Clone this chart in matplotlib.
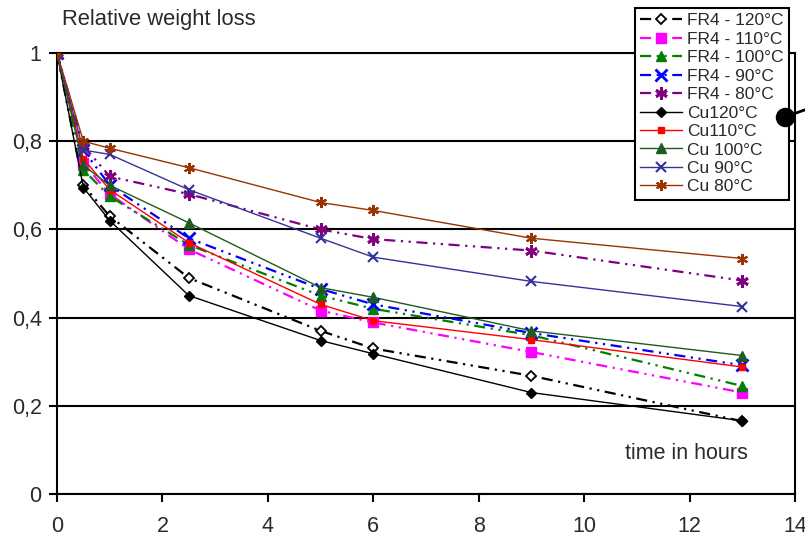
import matplotlib
matplotlib.use("Agg")
import matplotlib.pyplot as plt
from matplotlib.lines import Line2D
from matplotlib.ticker import FuncFormatter

plt.rcParams['font.family'] = ['Liberation Sans', 'DejaVu Sans']

time_h = [0, 0.5, 1, 2.5, 5, 6, 9, 13]

series_labels = ["FR4 - 120°C", "FR4 - 110°C", "FR4 - 100°C", "FR4 - 90°C", "FR4 - 80°C",
                 "Cu120°C", "Cu110°C", "Cu 100°C", "Cu 90°C", "Cu 80°C"]

fr4_120 = [1.0, 0.70, 0.63, 0.49, 0.37, 0.33, 0.268, 0.165]
fr4_110 = [1.0, 0.75, 0.68, 0.555, 0.416, 0.389, 0.322, 0.230]
fr4_100 = [1.0, 0.735, 0.675, 0.565, 0.45, 0.42, 0.36, 0.245]
fr4_90 = [1.0, 0.78, 0.70, 0.58, 0.465, 0.43, 0.365, 0.292]
fr4_80 = [1.0, 0.79, 0.72, 0.68, 0.60, 0.578, 0.552, 0.484]
cu_120 = [1.0, 0.695, 0.62, 0.45, 0.348, 0.318, 0.23, 0.166]
cu_110 = [1.0, 0.76, 0.69, 0.57, 0.43, 0.393, 0.35, 0.288]
cu_100 = [1.0, 0.745, 0.70, 0.615, 0.468, 0.446, 0.37, 0.314]
cu_90 = [1.0, 0.78, 0.77, 0.69, 0.58, 0.537, 0.482, 0.425]
cu_80 = [1.0, 0.80, 0.784, 0.74, 0.661, 0.643, 0.58, 0.534]

series_values = [fr4_120, fr4_110, fr4_100, fr4_90, fr4_80,
                 cu_120, cu_110, cu_100, cu_90, cu_80]

colors = ["#000000", "#FF00FF", "#008000", "#0000FF", "#800080",
          "#000000", "#FF0000", "#1E5B1E", "#333399", "#993300"]

yticks = [0, 0.2, 0.4, 0.6, 0.8, 1.0]
xticks = [0, 2, 4, 6, 8, 10, 12, 14]

W, H = 805, 537
fig = plt.figure(figsize=(W / 100, H / 100), dpi=100)
ax = fig.add_axes([57 / W, (H - 494) / H, (795 - 57) / W, (494 - 53) / H])

dashdot = (0, (5, 2.5, 1, 2.5, 1, 2.5))
star = (6, 2, 0)
styles = [
    dict(ls=dashdot, lw=1.6, marker='D', ms=5, mfc='white', mec='black', mew=1.3),
    dict(ls=dashdot, lw=1.6, marker='s', ms=7),
    dict(ls=dashdot, lw=1.6, marker='^', ms=7),
    dict(ls=dashdot, lw=1.6, marker='x', ms=8, mew=2),
    dict(ls=dashdot, lw=1.6, marker=star, ms=9, mew=2),
    dict(ls='-', lw=1.0, marker='D', ms=5),
    dict(ls='-', lw=1.0, marker='s', ms=5),
    dict(ls='-', lw=1.0, marker='^', ms=7),
    dict(ls='-', lw=1.0, marker='x', ms=7, mew=1.5),
    dict(ls='-', lw=1.0, marker=star, ms=8, mew=1.5),
]

handles = []
for lab, vals, col, st in zip(series_labels, series_values, colors, styles):
    kw = dict(st)
    kw.setdefault('mfc', col)
    kw.setdefault('mec', col)
    h, = ax.plot(time_h, vals, color=col, label=lab, zorder=3, **kw)
    handles.append(h)

ax.set_xlim(0, 14)
ax.set_ylim(0, 1)
ax.set_xticks(xticks)
ax.set_yticks(yticks)
ax.yaxis.set_major_formatter(FuncFormatter(lambda v, p: ("%g" % round(v, 1)).replace('.', ',')))
ax.yaxis.grid(True, color='black', lw=1.5, zorder=1)
ax.set_axisbelow(True)
for s in ax.spines.values():
    s.set_linewidth(1.5)
    s.set_color('black')
ax.tick_params(axis='both', direction='out', length=6, width=1.5, labelsize=15.5,
               labelcolor='#2a2a2a')
ax.tick_params(axis='x', pad=10)
ax.tick_params(axis='y', pad=5)

fig.text(62 / W, 1 - 20 / H, "Relative weight loss", fontsize=15.8, color='#2a2a2a',
         ha='left', va='center')
ax.text(13.1, 0.092, "time in hours", fontsize=15.5, color='#2a2a2a',
        ha='right', va='center')

leg = fig.legend(handles=handles, loc='upper left', bbox_to_anchor=(635 / W, 1 - 8 / H),
                 borderaxespad=0, fontsize=12.5, labelspacing=0.19, handlelength=2.4,
                 handletextpad=0.3, borderpad=0.3, numpoints=1, fancybox=False,
                 framealpha=1, edgecolor='black', labelcolor='#2a2a2a')
leg.get_frame().set_linewidth(1.5)
leg.set_zorder(5)

# annotation pointer (dot with leader line)
fig.add_artist(Line2D([785 / W, 810 / W], [1 - 117 / H, 1 - 108 / H], color='black', lw=2,
                      transform=fig.transFigure, zorder=20))
fig.add_artist(Line2D([785 / W], [1 - 117 / H], marker='o', ms=13, color='black',
                      transform=fig.transFigure, zorder=21))

fig.savefig("out.png", dpi=100)
